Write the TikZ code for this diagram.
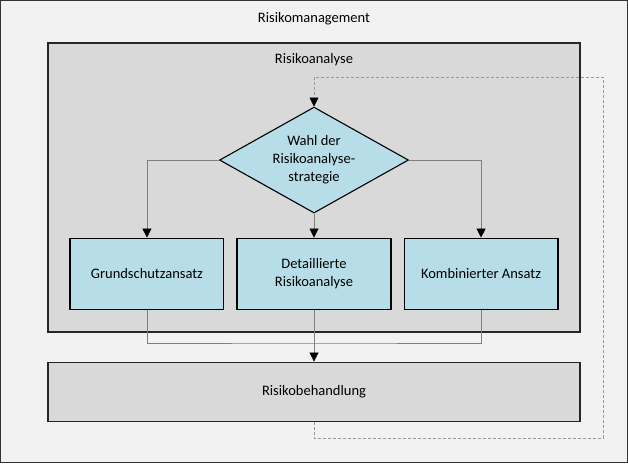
\documentclass[tikz,border=0pt]{standalone}
\usepackage{fontspec}
\setmainfont{Carlito}
\usetikzlibrary{shapes.geometric, arrows.meta, positioning}
\definecolor{rmouter}{HTML}{F2F2F2}
\definecolor{rmgray}{HTML}{D9D9D9}
\definecolor{rmblue}{HTML}{B7DEE8}
\tikzset{
    frame/.style={draw=black!80, fill=rmouter, line width=1.2pt, inner sep=0pt},
    graybox/.style={draw=black!85, fill=rmgray, line width=1.2pt, minimum width=532pt, align=center},
    bluebox/.style={draw=black, fill=rmblue, line width=1.1pt, minimum width=154pt, minimum height=71pt, align=center},
    choice/.style={draw=black, fill=rmblue, line width=1.1pt, diamond, shape aspect=1.78, inner sep=0pt, minimum width=189pt, minimum height=106pt, align=center},
    conn/.style={draw=black!50, line width=0.7pt},
    tip/.style={-{Triangle[length=9pt, width=9pt, color=black]}},
    loopline/.style={draw=black!40, line width=0.7pt, dash pattern=on 3pt off 2pt}
}
\begin{document}
\begin{tikzpicture}[x=1pt, y=-1pt, font=\fontsize{14.5}{18}\selectfont]
    \node[frame, minimum width=627pt, minimum height=462pt] (outer) at (314,231.5) {};
    \node (mgmt) at (314,19) {Risikomanagement};
    \node[graybox, minimum height=289pt] (analyse) at (314,187.5) {};
    \node (analysetitle) at (314,60) {Risikoanalyse};
    \node[choice] (wahl) at (314,160) {Wahl der\\Risikoanalyse-\\strategie};
    \node[bluebox, below=24pt of wahl] (detail) {Detaillierte\\Risikoanalyse};
    \node[bluebox, left=12pt of detail] (grund) {Grundschutzansatz};
    \node[bluebox, right=12pt of detail] (kombi) {Kombinierter Ansatz};
    \node[graybox, minimum height=59pt, below=29pt of analyse] (behandlung) {Risikobehandlung};

    \coordinate (merge) at (314,343);
    \coordinate (loopbottom) at (603,438);
    \coordinate (looptop) at (603,77);

    % strategy choice
    \draw[conn, tip] (wahl.west) -| (grund.north);
    \draw[conn, tip] (wahl.south) -- (detail.north);
    \draw[conn, tip] (wahl.east) -| (kombi.north);
    % into treatment
    \draw[conn] (grund.south) |- (merge) -| (kombi.south);
    \draw[conn, tip] (detail.south) -- (behandlung.north);
    % feedback loop
    \draw[loopline, tip] (behandlung.south) |- (loopbottom) -- (looptop) -| (wahl.north);
\end{tikzpicture}
\end{document}
